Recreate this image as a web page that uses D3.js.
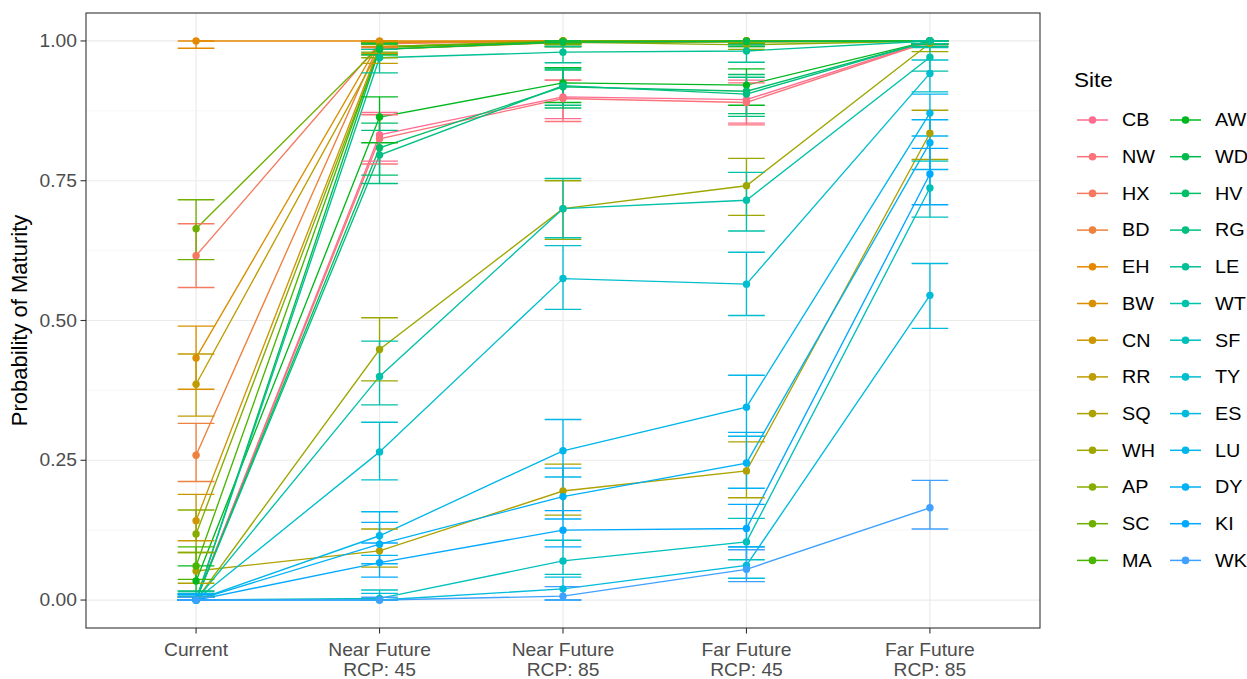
<!DOCTYPE html>
<html><head><meta charset="utf-8">
<script src="https://cdn.jsdelivr.net/npm/d3@7"></script>
<style>body{margin:0;background:#fff;} svg{font-family:"Liberation Sans",Arial,sans-serif;}</style>
</head><body><svg id="c" width="1247" height="679"></svg>
<script>
const sites = ["CB","NW","HX","BD","EH","BW","CN","RR","SQ","WH","AP","SC","MA","AW","WD","HV","RG","LE","WT","SF","TY","ES","LU","DY","KI","WK"];
const scenarios = ["Current","Near Future|RCP: 45","Near Future|RCP: 85","Far Future|RCP: 45","Far Future|RCP: 85"];
const yTicks = [0, 0.25, 0.5, 0.75, 1];
const yTickLabels = ["0.00","0.25","0.50","0.75","1.00"];

const prob = {
 CB:[0,0.832,0.900,0.895,1.0], NW:[0,0.825,0.897,0.890,0.999], HX:[0.616,0.995,1,1,1],
 BD:[0.259,0.997,1,1,1], EH:[1,1,1,1,1], BW:[0.433,0.998,1,1,1], CN:[0.142,0.990,0.999,1,1],
 RR:[0.386,0.985,0.997,0.998,1], SQ:[0.052,0.088,0.195,0.231,0.835], WH:[0,0.448,0.700,0.741,0.996],
 AP:[0.118,0.985,0.998,0.993,1], SC:[0.664,0.990,1,1,1], MA:[0.061,0.988,0.999,1,1],
 AW:[0.034,0.864,0.925,0.921,1], WD:[0,0.985,0.998,0.999,1], HV:[0,0.809,0.918,0.910,1],
 RG:[0,0.796,0.920,0.905,1], LE:[0,0.970,0.980,0.982,1], WT:[0,0.400,0.700,0.715,0.971],
 SF:[0,0.003,0.070,0.104,0.737], TY:[0,0.265,0.575,0.565,0.942], ES:[0,0,0.020,0.062,0.545],
 LU:[0,0.115,0.267,0.345,0.871], DY:[0,0.100,0.185,0.245,0.818], KI:[0,0.067,0.125,0.128,0.762],
 WK:[0,0,0.007,0.055,0.165]
};
const lower = {
 CB:[0,0.785,0.861,0.853,0.99], NW:[0,0.78,0.856,0.85,0.99], HX:[0.559,0.985,0.995,0.995,0.995],
 BD:[0.212,0.988,0.995,0.995,0.995], EH:[0.987,0.995,0.995,0.995,0.995], BW:[0.377,0.99,0.995,0.995,0.995],
 CN:[0.106,0.978,0.995,0.995,0.995], RR:[0.329,0.96,0.99,0.99,0.995], SQ:[0.030,0.059,0.152,0.183,0.788],
 WH:[0,0.392,0.645,0.688,0.981], AP:[0.085,0.97,0.99,0.985,0.995], SC:[0.609,0.98,0.995,0.995,0.995],
 MA:[0.037,0.975,0.995,0.995,0.995], AW:[0.016,0.818,0.89,0.885,0.995], WD:[0,0.975,0.99,0.99,0.995],
 HV:[0,0.76,0.88,0.87,0.99], RG:[0,0.745,0.885,0.865,0.99], LE:[0,0.943,0.961,0.962,0.995],
 WT:[0,0.349,0.648,0.66,0.946], SF:[0,0,0.046,0.072,0.685], TY:[0,0.215,0.52,0.509,0.909],
 ES:[0,0,0,0.039,0.486], LU:[0,0.08,0.22,0.293,0.83], DY:[0,0.065,0.145,0.2,0.77],
 KI:[0,0.041,0.095,0.095,0.707], WK:[0,0,0,0.033,0.127]
};
const upper = {
 CB:[0.005,0.872,0.93,0.93,1], NW:[0.005,0.868,0.93,0.925,1], HX:[0.673,1,1,1,1],
 BD:[0.316,1,1,1,1], EH:[1,1,1,1,1], BW:[0.49,1,1,1,1], CN:[0.189,0.997,1,1,1],
 RR:[0.44,0.995,1,1,1], SQ:[0.085,0.127,0.243,0.283,0.876], WH:[0.005,0.505,0.75,0.79,1],
 AP:[0.161,0.995,1,0.998,1], SC:[0.716,0.997,1,1,1], MA:[0.095,0.995,1,1,1],
 AW:[0.061,0.90,0.952,0.95,1], WD:[0.005,0.995,1,1,1], HV:[0.005,0.853,0.948,0.94,1],
 RG:[0.005,0.84,0.95,0.935,1], LE:[0.016,0.985,0.99,0.993,1], WT:[0.012,0.463,0.754,0.765,0.988],
 SF:[0.012,0.018,0.107,0.146,0.785], TY:[0.01,0.318,0.634,0.622,0.966], ES:[0.01,0.012,0.041,0.095,0.602],
 LU:[0.01,0.158,0.323,0.402,0.905], DY:[0.01,0.139,0.236,0.30,0.859], KI:[0.01,0.102,0.16,0.171,0.808],
 WK:[0.005,0.005,0.024,0.09,0.214]
};

// R-style hcl (polar LUV) -> hex
function rhcl(h, c, l) {
  const hr = h * Math.PI / 180, L = l, U = c * Math.cos(hr), V = c * Math.sin(hr);
  const Xn = 95.047, Yn = 100, Zn = 108.883;
  const Y = Yn * (L > 8 ? Math.pow((L + 16) / 116, 3) : L / 903.3);
  const d = Xn + 15 * Yn + 3 * Zn, un = 4 * Xn / d, vn = 9 * Yn / d;
  const u = U / (13 * L) + un, v = V / (13 * L) + vn;
  const X = 9 * Y * u / (4 * v), Z = -X / 3 - 5 * Y + 3 * Y / v;
  const x = X / 100, y = Y / 100, z = Z / 100;
  let rgb = [3.240479*x - 1.537150*y - 0.498535*z, -0.969256*x + 1.875992*y + 0.041556*z, 0.055648*x - 0.204043*y + 1.057311*z];
  rgb = rgb.map(t => { t = t <= 0.0031308 ? 12.92 * t : 1.055 * Math.pow(t, 1/2.4) - 0.055; return Math.round(Math.max(0, Math.min(1, t)) * 255); });
  return d3.rgb(rgb[0], rgb[1], rgb[2]).formatHex();
}
const color = d3.scaleOrdinal().domain(sites).range(sites.map((s, i) => rhcl(i * 10, 100, 65)));

const svg = d3.select("#c");
const L = 86, R = 1040, T = 13, B = 628;
const SX = 1.1; // horizontal text stretch
const x = d3.scalePoint().domain(scenarios).range([L, R]).padding(0.6);
const y = d3.scaleLinear().domain([-0.05, 1.05]).range([B, T]);
const capHalf = x.step() * 0.1;

function txt(parent, tx, ty, str, size, fill, anchor) {
  return parent.append("text").attr("transform", `translate(${tx},${ty}) scale(${SX},1)`)
    .attr("text-anchor", anchor || "start").attr("font-size", size).attr("fill", fill).text(str);
}

const g = svg.append("g");
const minor = [0.125, 0.375, 0.625, 0.875];
g.selectAll(".mn").data(minor).join("line").attr("x1", L).attr("x2", R)
  .attr("y1", d => y(d)).attr("y2", d => y(d)).attr("stroke", "#f2f2f2").attr("stroke-width", 0.6);
g.selectAll(".mj").data(yTicks).join("line").attr("x1", L).attr("x2", R)
  .attr("y1", d => y(d)).attr("y2", d => y(d)).attr("stroke", "#ebebeb").attr("stroke-width", 1.2);
g.selectAll(".vx").data(scenarios).join("line").attr("x1", d => x(d)).attr("x2", d => x(d))
  .attr("y1", T).attr("y2", B).attr("stroke", "#ebebeb").attr("stroke-width", 1.2);

const series = sites.map(s => ({ site: s, pts: scenarios.map((sc, i) => ({ sc, v: prob[s][i], lo: lower[s][i], hi: upper[s][i] })) }));
const line = d3.line().x(d => x(d.sc)).y(d => y(d.v));

g.selectAll(".ln").data(series).join("path").attr("d", d => line(d.pts))
  .attr("fill", "none").attr("stroke", d => color(d.site)).attr("stroke-width", 1.35);
series.forEach(s => {
  const eg = g.append("g").attr("stroke", color(s.site)).attr("stroke-width", 1.35).attr("fill", "none");
  s.pts.forEach(p => {
    const cx = x(p.sc);
    eg.append("line").attr("x1", cx).attr("x2", cx).attr("y1", y(p.lo)).attr("y2", y(p.hi));
    eg.append("line").attr("x1", cx - capHalf).attr("x2", cx + capHalf).attr("y1", y(p.lo)).attr("y2", y(p.lo));
    eg.append("line").attr("x1", cx - capHalf).attr("x2", cx + capHalf).attr("y1", y(p.hi)).attr("y2", y(p.hi));
  });
});
series.forEach(s => {
  g.append("g").selectAll("circle").data(s.pts).join("circle")
    .attr("cx", d => x(d.sc)).attr("cy", d => y(d.v)).attr("r", 3.7).attr("fill", color(s.site));
});

svg.append("rect").attr("x", L).attr("y", T).attr("width", R - L).attr("height", B - T)
  .attr("fill", "none").attr("stroke", "#333333").attr("stroke-width", 1.1);

// y axis
yTicks.forEach((t, i) => {
  svg.append("line").attr("x1", L - 5.5).attr("x2", L).attr("y1", y(t)).attr("y2", y(t)).attr("stroke", "#333333").attr("stroke-width", 1.1);
  txt(svg, L - 9, y(t) + 6, yTickLabels[i], 17.5, "#4d4d4d", "end");
});
svg.append("text").attr("transform", `translate(27,${(T + B) / 2}) rotate(-90)`).attr("text-anchor", "middle")
  .attr("font-size", 22).attr("fill", "#000").text("Probability of Maturity");

// x axis
scenarios.forEach(sc => {
  const cx = x(sc);
  svg.append("line").attr("x1", cx).attr("x2", cx).attr("y1", B).attr("y2", B + 5.5).attr("stroke", "#333333").attr("stroke-width", 1.1);
  sc.split("|").forEach((ln, j) => txt(svg, cx, 656 + j * 20, ln, 17.5, "#4d4d4d", "middle"));
});

// legend
txt(svg, 1074, 87, "Site", 20.5, "#000");
sites.forEach((s, i) => {
  const col = Math.floor(i / 13), row = i % 13;
  const lx = 1077 + col * 93, ly = 120 + row * 36.7;
  svg.append("line").attr("x1", lx).attr("x2", lx + 31).attr("y1", ly).attr("y2", ly).attr("stroke", color(s)).attr("stroke-width", 1.5);
  svg.append("circle").attr("cx", lx + 15.5).attr("cy", ly).attr("r", 3.8).attr("fill", color(s));
  txt(svg, lx + 45, ly + 6.3, s, 18, "#000");
});
</script></body></html>
